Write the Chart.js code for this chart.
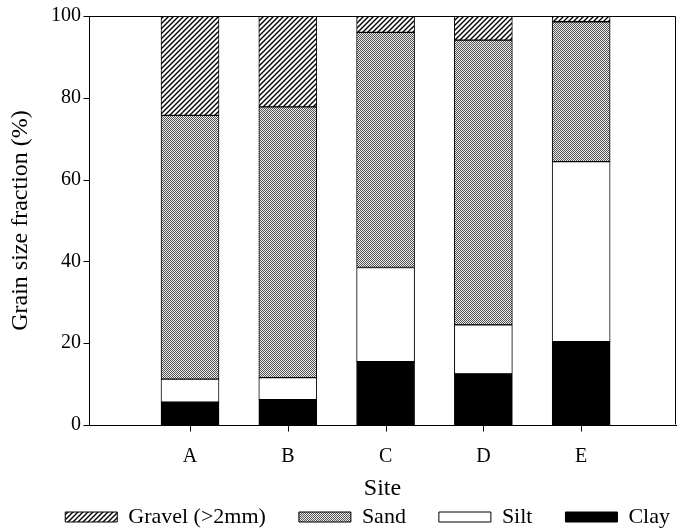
<!DOCTYPE html>
<html>
<head>
<meta charset="utf-8">
<script src="https://cdn.jsdelivr.net/npm/chart.js@4/dist/chart.umd.min.js"></script>
<style>
  html, body { margin: 0; padding: 0; background: #fff; overflow: hidden; }
  #wrap { position: relative; width: 678px; height: 531px; }
</style>
</head>
<body>
<div id="wrap"><canvas id="chart"></canvas></div>
<script>
const sites = ['A', 'B', 'C', 'D', 'E'];
const sitePos = [1, 2, 3, 4, 5];
const clay = [5.6, 6.2, 15.5, 12.5, 20.4];
const silt = [5.6, 5.4, 23.0, 12.0, 44.0];
const sand = [64.5, 66.2, 57.5, 69.6, 34.2];
const gravel = [24.3, 22.2, 4.0, 5.9, 1.4];
const yTicks = [0, 20, 40, 60, 80, 100];

const FONT = 'Liberation Serif';
const X_MIN = -0.033;
const X_MAX = 5.97;
const LEGEND_OVERHANG = 27;  // legend runs past the right edge, as in the cropped figure

function hatchPattern() {
  const c = document.createElement('canvas');
  c.width = 5; c.height = 5;
  const g = c.getContext('2d');
  g.fillStyle = '#fff';
  g.fillRect(0, 0, 5, 5);
  g.strokeStyle = '#000';
  g.lineWidth = 1.4;
  g.beginPath();
  g.moveTo(-1, 6); g.lineTo(6, -1);
  g.moveTo(-1, 1); g.lineTo(1, -1);
  g.moveTo(4, 6); g.lineTo(6, 4);
  g.stroke();
  return g.createPattern(c, 'repeat');
}

function stipplePattern() {
  const c = document.createElement('canvas');
  c.width = 2; c.height = 2;
  const g = c.getContext('2d');
  g.fillStyle = '#ebebeb';
  g.fillRect(0, 0, 2, 2);
  g.fillStyle = '#555';
  g.fillRect(0, 0, 1, 1);
  g.fillRect(1, 1, 1, 1);
  return g.createPattern(c, 'repeat');
}

const toPoints = vals => sitePos.map((x, i) => ({ x, y: vals[i] }));

function series(label, vals, fill) {
  return {
    label,
    data: toPoints(vals),
    backgroundColor: fill,
    borderColor: '#000',
    borderWidth: 1,
    borderSkipped: false,
    barThickness: 58,
  };
}

// plot box frame and outward tick marks
const framePlugin = {
  id: 'frame',
  afterLayout(chart) {
    chart.legend.right += LEGEND_OVERHANG;
  },
  afterDraw(chart) {
    const { ctx, chartArea: a, scales: { x, y } } = chart;
    const t = Math.round(a.top) + 0.5;
    const r = Math.round(a.right) - 0.5;
    const b = Math.round(a.bottom) - 0.5;
    const l = Math.round(a.left) + 0.5;
    ctx.save();
    ctx.strokeStyle = '#000';
    ctx.lineWidth = 1;
    ctx.beginPath();
    ctx.moveTo(l, t);
    ctx.lineTo(r, t);
    ctx.lineTo(r, b);
    ctx.stroke();
    ctx.beginPath();
    for (const v of sitePos) {
      const px = Math.round(x.getPixelForValue(v)) + 0.5;
      ctx.moveTo(px, b);
      ctx.lineTo(px, b + 7);
    }
    for (const v of yTicks) {
      const py = Math.round(y.getPixelForValue(v)) + 0.5;
      ctx.moveTo(l, py);
      ctx.lineTo(l - 6, py);
    }
    ctx.stroke();
    ctx.restore();
  },
};

new Chart(document.getElementById('chart'), {
  type: 'bar',
  data: {
    datasets: [
      series('Clay', clay, '#000'),
      series('Silt', silt, '#fff'),
      series('Sand', sand, stipplePattern()),
      series('Gravel (>2mm)', gravel, hatchPattern()),
    ],
  },
  options: {
    responsive: true,
    maintainAspectRatio: false,
    animation: false,
    layout: { padding: { top: 16, left: 0, right: 2, bottom: 0 } },
    plugins: {
      tooltip: { enabled: false },
      legend: {
        position: 'bottom',
        align: 'end',
        reverse: true,
        maxHeight: 58,
        labels: {
          boxWidth: 52,
          boxHeight: 10,
          padding: 33,
          color: '#000',
          font: { family: FONT, size: 22 },
        },
      },
    },
    scales: {
      x: {
        type: 'linear',
        stacked: true,
        offset: false,
        min: X_MIN,
        max: X_MAX,
        afterBuildTicks: s => { s.ticks = sitePos.map(v => ({ value: v })); },
        afterFit: s => { s.height = 48; },
        ticks: {
          autoSkip: false,
          maxRotation: 0,
          padding: 20,
          color: '#000',
          font: { family: FONT, size: 20 },
          callback: v => sites[sitePos.indexOf(v)],
        },
        grid: { display: false, drawTicks: false, tickLength: 0 },
        border: { display: true, color: '#000', width: 1 },
        title: {
          display: true,
          text: 'Site',
          color: '#000',
          font: { family: FONT, size: 24 },
          padding: { top: 0, bottom: -30 },
        },
      },
      y: {
        stacked: true,
        min: 0,
        max: 100,
        afterBuildTicks: s => { s.ticks = yTicks.map(v => ({ value: v })); },
        afterFit: s => { s.width = 89; s.paddingTop = 12; s.paddingBottom = 12; },
        ticks: {
          padding: 8,
          color: '#000',
          font: { family: FONT, size: 20 },
        },
        grid: { display: false, drawTicks: false, tickLength: 0 },
        border: { display: true, color: '#000', width: 1 },
        title: {
          display: true,
          text: 'Grain size fraction (%)',
          color: '#000',
          font: { family: FONT, size: 24 },
          padding: { top: 6, bottom: 0 },
        },
      },
    },
  },
  plugins: [framePlugin],
});
</script>
</body>
</html>
